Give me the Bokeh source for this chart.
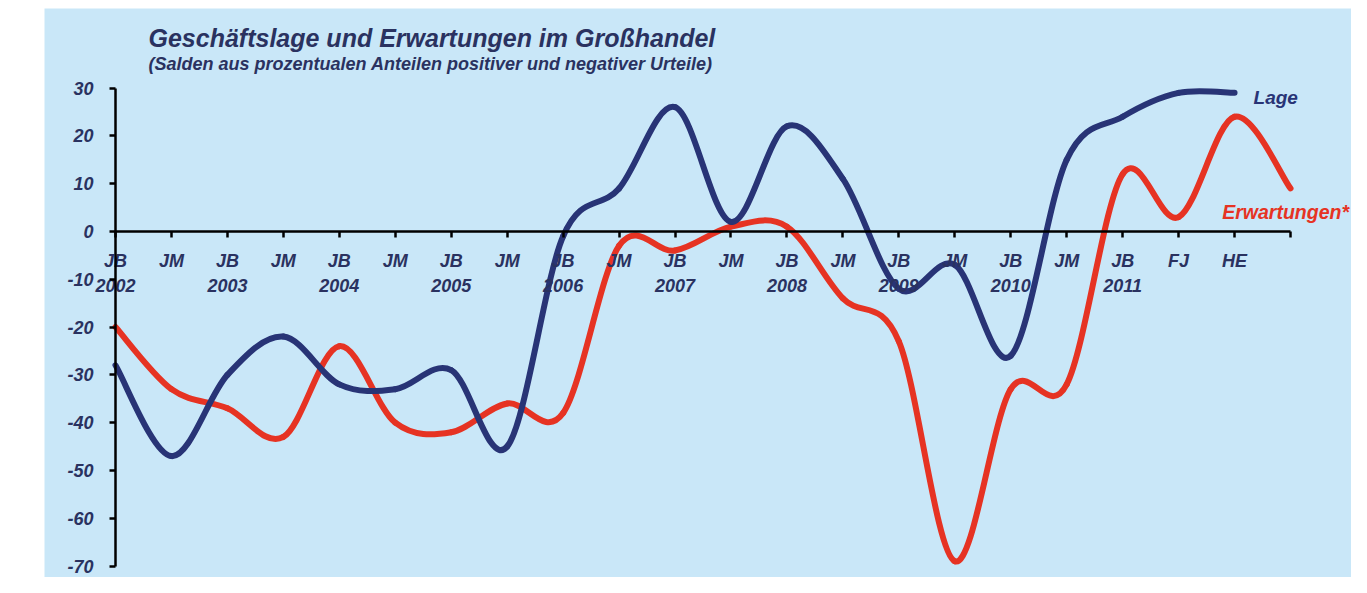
from bokeh.plotting import figure
from bokeh.models import LinearAxis, FixedTicker, Label, Range1d
from bokeh.embed import file_html
from bokeh.resources import INLINE

# ---- data (half-yearly survey balances) ----
tick_labels = ["JB\n2002", "JM", "JB\n2003", "JM", "JB\n2004", "JM", "JB\n2005", "JM",
               "JB\n2006", "JM", "JB\n2007", "JM", "JB\n2008", "JM", "JB\n2009", "JM",
               "JB\n2010", "JM", "JB\n2011", "FJ", "HE", ""]
lage = [-28, -47, -30, -22, -32, -33, -29, -45, -1, 9, 26, 2, 22, 11, -12, -7,
        -26, 15, 24, 29, 29]
erwartungen = [-20, -33, -37, -43, -24, -40, -42, -36, -38, -3, -4, 1, 1, -14, -23, -69,
               -33, -32, 12, 3, 24, 9]
y_ticks = [-70, -60, -50, -40, -30, -20, -10, 0, 10, 20, 30]
y_tick_labels = ["-70", "-60", "-50", "-40", "-30", "-20", "-10", "0", "10", "20", "30"]

BG = "#c9e7f8"
NAVY = "#283476"
RED = "#e63323"
TXT = "#2a3260"
FONT = "Liberation Sans"


def smooth_segments(ys):
    """Excel-like smoothed line: cubic Bezier segments through the points."""
    xs = list(range(len(ys)))
    n = len(ys)
    out = dict(x0=[], y0=[], x1=[], y1=[], cx0=[], cy0=[], cx1=[], cy1=[])
    for i in range(n - 1):
        a = i - 1 if i > 0 else i
        d = i + 2 if i + 2 < n else i + 1
        out["x0"].append(xs[i]); out["y0"].append(ys[i])
        out["x1"].append(xs[i + 1]); out["y1"].append(ys[i + 1])
        out["cx0"].append(xs[i] + (xs[i + 1] - xs[a]) / 6)
        out["cy0"].append(ys[i] + (ys[i + 1] - ys[a]) / 6)
        out["cx1"].append(xs[i + 1] - (xs[d] - xs[i]) / 6)
        out["cy1"].append(ys[i + 1] - (ys[d] - ys[i]) / 6)
    return out


p = figure(width=1351, height=577, output_backend="svg", toolbar_location=None,
           x_axis_location=None, y_axis_location=None,
           x_range=Range1d(-1.269, 22.09), y_range=Range1d(-72.4, 46.65),
           min_border_left=44, min_border_right=0, min_border_top=8, min_border_bottom=0)
p.background_fill_color = BG
p.border_fill_color = "white"
p.outline_line_color = None
p.xgrid.visible = False
p.ygrid.visible = False

for ys, col in ((erwartungen, RED), (lage, NAVY)):
    s = smooth_segments(ys)
    p.bezier(x0="x0", y0="y0", x1="x1", y1="y1", cx0="cx0", cy0="cy0", cx1="cx1", cy1="cy1",
             source=s, line_color=col, line_width=6, line_cap="round")

# axes crossing at (0, 0)
xaxis = LinearAxis(fixed_location=0, bounds=(0, len(tick_labels) - 1),
                   ticker=FixedTicker(ticks=list(range(len(tick_labels)))))
xaxis.major_label_overrides = {i: t for i, t in enumerate(tick_labels)}
yaxis = LinearAxis(fixed_location=0, bounds=(y_ticks[0], y_ticks[-1]),
                   ticker=FixedTicker(ticks=y_ticks))
yaxis.major_label_overrides = {v: t for v, t in zip(y_ticks, y_tick_labels)}
for ax in (xaxis, yaxis):
    ax.axis_line_color = "black"
    ax.axis_line_width = 2.5
    ax.major_tick_line_color = "black"
    ax.major_tick_line_width = 2.5
    ax.major_tick_in = 0
    ax.major_tick_out = 6
    ax.minor_tick_line_color = None
    ax.major_label_text_font = FONT
    ax.major_label_text_font_style = "bold italic"
    ax.major_label_text_font_size = "18px"
    ax.major_label_text_color = TXT
xaxis.major_label_standoff = 14
xaxis.major_label_text_line_height = 1.25
yaxis.major_label_standoff = 16
p.add_layout(xaxis, "below")
p.add_layout(yaxis, "left")

p.add_layout(Label(x=0.59, y=40.4, text="Geschäftslage und Erwartungen im Großhandel",
                   text_font=FONT, text_font_style="bold italic", text_font_size="25px",
                   text_color=TXT, text_baseline="middle"))
p.add_layout(Label(x=0.59, y=35.0,
                   text="(Salden aus prozentualen Anteilen positiver und negativer Urteile)",
                   text_font=FONT, text_font_style="bold italic", text_font_size="18px",
                   text_color=TXT, text_baseline="middle"))
p.add_layout(Label(x=20.34, y=28.0, text="Lage", text_font=FONT,
                   text_font_style="bold italic", text_font_size="19px",
                   text_color=NAVY, text_baseline="middle"))
p.add_layout(Label(x=19.78, y=4.0, text="Erwartungen*", text_font=FONT,
                   text_font_style="bold italic", text_font_size="19.5px",
                   text_color=RED, text_baseline="middle"))

open("out.html", "w").write(file_html(p, INLINE))
